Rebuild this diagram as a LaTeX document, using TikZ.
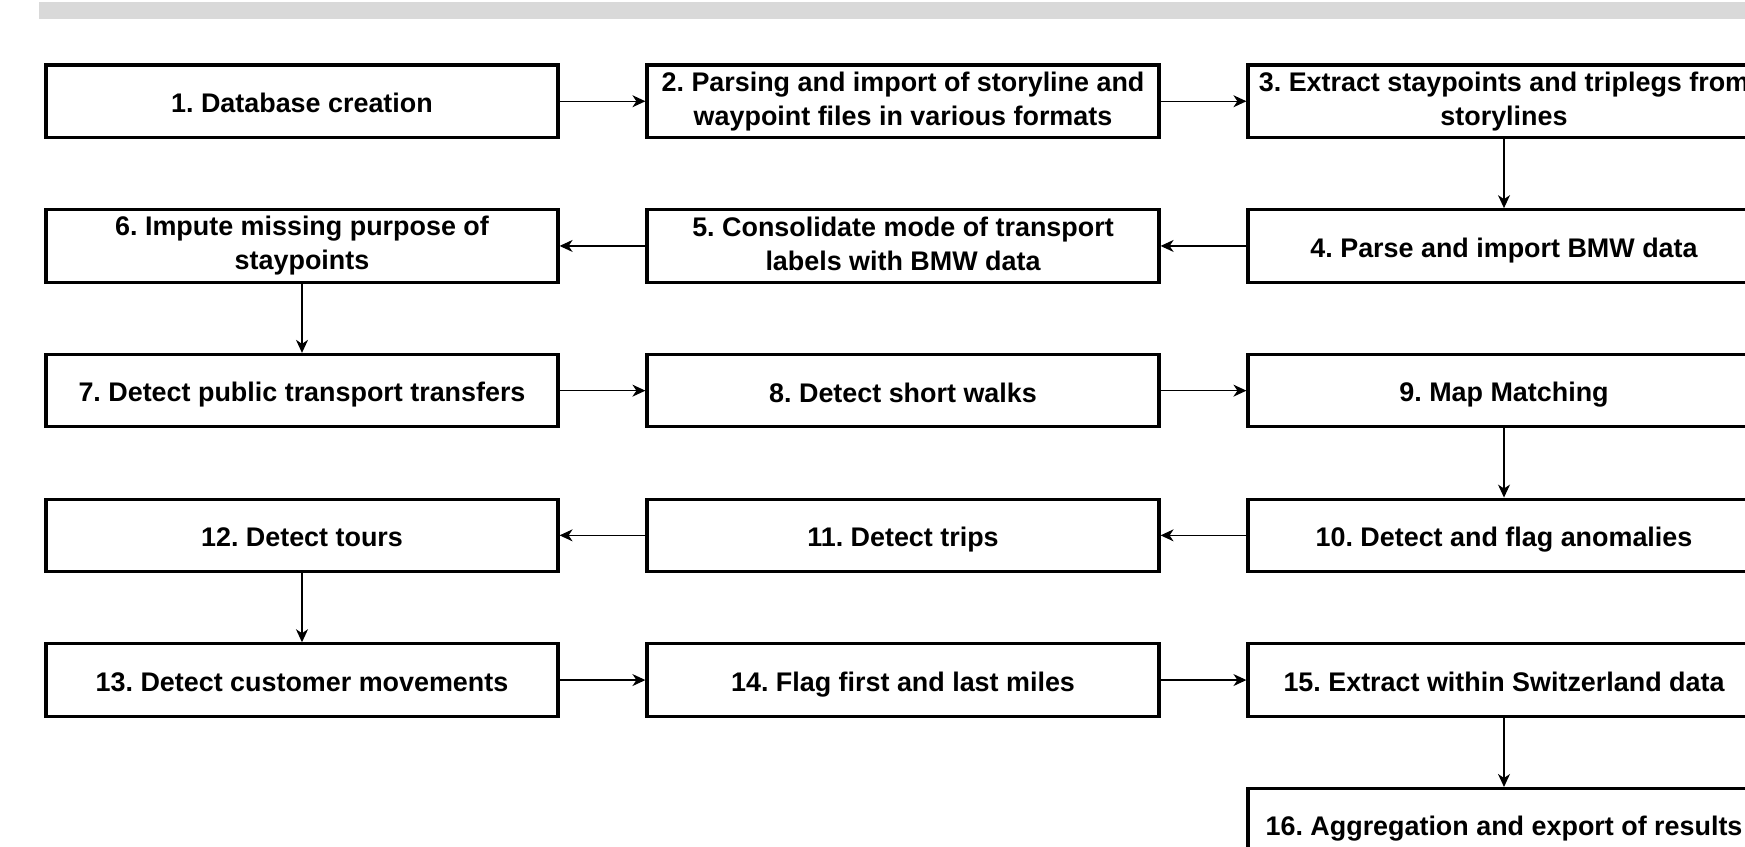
\documentclass[tikz,border=0pt]{standalone}
\usepackage{fontspec}
\setmainfont{Liberation Sans}
\usetikzlibrary{arrows.meta}
\definecolor{barGray}{HTML}{D9D9D9}
\newcommand{\boxstrut}{\rule[-2.3pt]{0pt}{16.14pt}}
\tikzset{
  x=0.5pt, y=-0.5pt,
  stepbox/.style={draw=black, line width=1.6pt, fill=white, rectangle,
    minimum width=256pt, minimum height=36.2pt, inner sep=0pt,
    align=center, font=\fontsize{13.45}{17}\selectfont\bfseries\frenchspacing,
    execute at begin node={\boxstrut}, execute at end node={\boxstrut}},
  flow/.style={draw=black, line width=0.6pt,
    -{Stealth[length=6.5pt, width=6pt, inset=2pt]}}
}
\begin{document}
\begin{tikzpicture}
\clip (0,0) rectangle (1745,846);
\fill[white] (0,0) rectangle (1745,846);
\fill[barGray] (39,2) rectangle (1745,19);
% row 1
\node[stepbox] (n1) at (302,101.25) {1. Database creation};
\node[stepbox] (n2) at (903,101.25) {2. Parsing and import of storyline and\\waypoint files in various formats};
\node[stepbox] (n3) at (1504,101.25) {3. Extract staypoints and triplegs from\\storylines};
% row 2
\node[stepbox] (n6) at (302,245.95) {6. Impute missing purpose of\\staypoints};
\node[stepbox] (n5) at (903,245.95) {5. Consolidate mode of transport\\labels with BMW data};
\node[stepbox] (n4) at (1504,245.95) {4. Parse and import BMW data};
% row 3
\node[stepbox] (n7) at (302,390.65) {7. Detect public transport transfers};
\node[stepbox] (n8) at (903,390.65) {8. Detect short walks};
\node[stepbox] (n9) at (1504,390.65) {9. Map Matching};
% row 4
\node[stepbox] (n12) at (302,535.35) {12. Detect tours};
\node[stepbox] (n11) at (903,535.35) {11. Detect trips};
\node[stepbox] (n10) at (1504,535.35) {10. Detect and flag anomalies};
% row 5
\node[stepbox] (n13) at (302,680.05) {13. Detect customer movements};
\node[stepbox] (n14) at (903,680.05) {14. Flag first and last miles};
\node[stepbox] (n15) at (1504,680.05) {15. Extract within Switzerland data};
% row 6
\node[stepbox] (n16) at (1504,824.75) {16. Aggregation and export of results};
% connectors
\draw[flow] (n1) -- (n2);
\draw[flow] (n2) -- (n3);
\draw[flow] (n3) -- (n4);
\draw[flow] (n4) -- (n5);
\draw[flow] (n5) -- (n6);
\draw[flow] (n6) -- (n7);
\draw[flow] (n7) -- (n8);
\draw[flow] (n8) -- (n9);
\draw[flow] (n9) -- (n10);
\draw[flow] (n10) -- (n11);
\draw[flow] (n11) -- (n12);
\draw[flow] (n12) -- (n13);
\draw[flow] (n13) -- (n14);
\draw[flow] (n14) -- (n15);
\draw[flow] (n15) -- (n16);
\end{tikzpicture}
\end{document}
